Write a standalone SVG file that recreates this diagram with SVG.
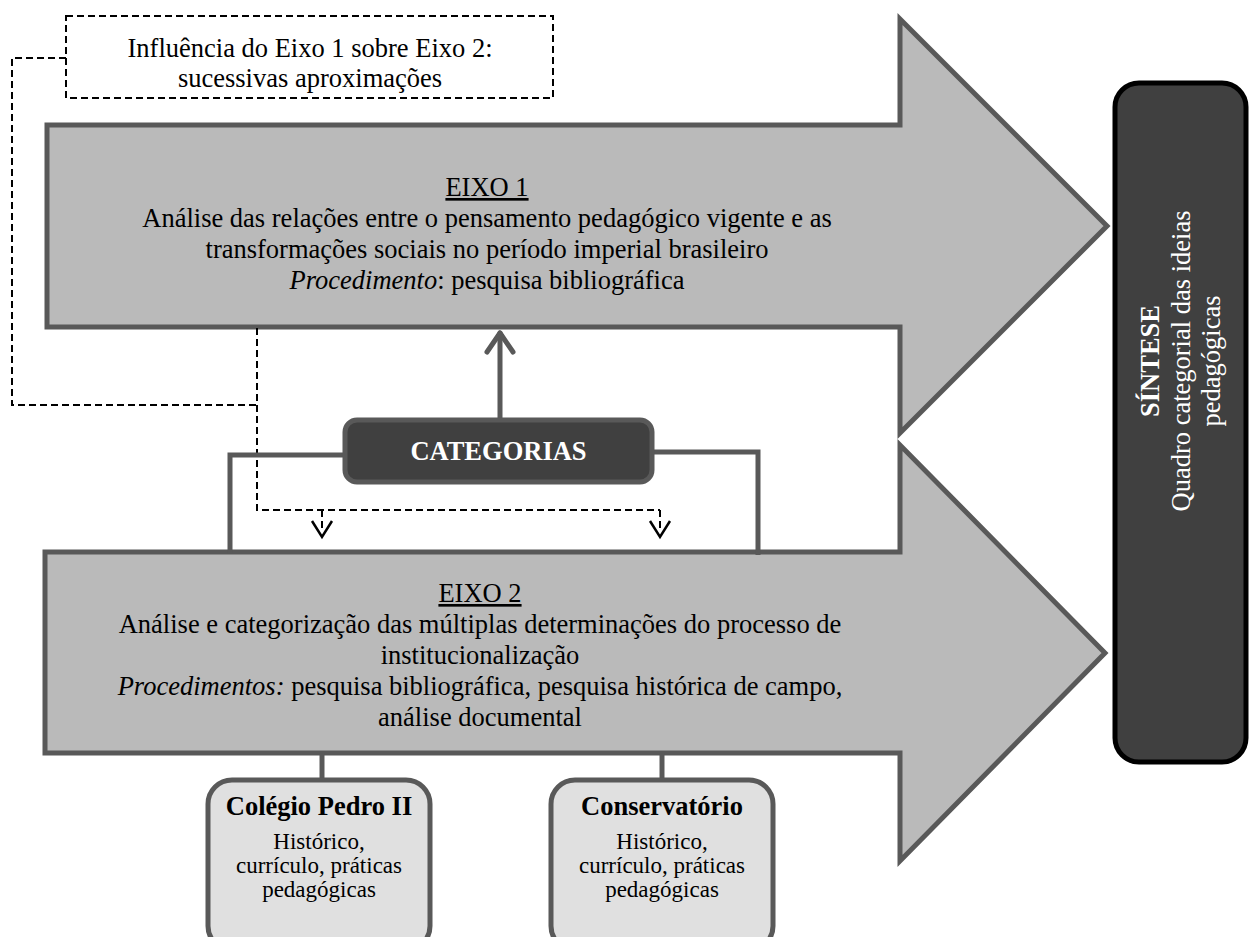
<svg xmlns="http://www.w3.org/2000/svg" width="1249" height="937" viewBox="0 0 1249 937">
<style>
text{font-family:"Liberation Serif","Times New Roman",serif;fill:#000}
.t{font-size:26.5px;text-anchor:middle}
.s{font-size:23px;text-anchor:middle}
.b{font-weight:bold}
.w{fill:#fff}
.it{font-style:italic}
.u{text-decoration:underline}
.arrow{fill:#bababa;stroke:#595959;stroke-width:5}
.conn{fill:none;stroke:#595959;stroke-width:5}
.dash{fill:none;stroke:#000;stroke-width:2;stroke-dasharray:7,4}
.head{fill:none;stroke:#000;stroke-width:2.5}
.box{fill:#e0e0e0;stroke:#595959;stroke-width:5}
</style>
<rect width="1249" height="937" fill="#fff"/>
<g id="eixo1">
<path class="arrow" d="M47,125 H900 V19 L1107,226 L900,433 V327 H47 Z"/>
<text class="t" x="487" y="196"><tspan class="u">EIXO 1</tspan></text>
<text class="t" x="487" y="227">Análise das relações entre o pensamento pedagógico vigente e as</text>
<text class="t" x="487" y="258">transformações sociais no período imperial brasileiro</text>
<text class="t" x="487" y="289"><tspan class="it">Procedimento</tspan>: pesquisa bibliográfica</text>
</g>
<g id="eixo2">
<path class="arrow" d="M45,552 H900 V445 L1105,653 L900,861 V753 H45 Z"/>
<text class="t" x="480" y="602"><tspan class="u">EIXO 2</tspan></text>
<text class="t" x="480" y="633">Análise e categorização das múltiplas determinações do processo de</text>
<text class="t" x="480" y="664">institucionalização</text>
<text class="t" x="480" y="695"><tspan class="it">Procedimentos:</tspan> pesquisa bibliográfica, pesquisa histórica de campo,</text>
<text class="t" x="480" y="726">análise documental</text>
</g>
<g id="connectors">
<path class="dash" d="M66,58 H12 V405 H257"/>
<path class="dash" d="M257,328 V510 H660"/>
<path class="dash" d="M322,510 V530"/>
<path class="dash" d="M660,510 V530"/>
<path class="head" d="M312,521 L322,537 L332,521"/>
<path class="head" d="M650,521 L660,537 L670,521"/>
<path class="conn" d="M345,455 H230 V553"/>
<path class="conn" d="M652,452 H758 V555"/>
<path class="conn" d="M500,420 V333" stroke-linecap="round"/>
<path class="conn" d="M487,352 L500,333 L513,352" stroke-linecap="round" stroke-linejoin="round"/>
<path class="conn" d="M322,753 V780"/>
<path class="conn" d="M662,753 V780"/>
</g>
<g id="influencia">
<rect x="66" y="16" width="487" height="82" fill="none" stroke="#000" stroke-width="2" stroke-dasharray="7,4"/>
<text class="t" x="310" y="57">Influência do Eixo 1 sobre Eixo 2:</text>
<text class="t" x="310" y="87">sucessivas aproximações</text>
</g>
<g id="categorias">
<rect x="345" y="420" width="307" height="62" rx="12" fill="#404040" stroke="#595959" stroke-width="5"/>
<text class="t b w" x="498.5" y="460">CATEGORIAS</text>
</g>
<g id="colegio">
<rect class="box" x="208" y="780" width="222" height="170" rx="24"/>
<text class="t b" x="319" y="815">Colégio Pedro II</text>
<text class="s" x="319" y="849">Histórico,</text>
<text class="s" x="319" y="873">currículo, práticas</text>
<text class="s" x="319" y="897">pedagógicas</text>
</g>
<g id="conservatorio">
<rect class="box" x="551" y="780" width="222" height="170" rx="24"/>
<text class="t b" x="662" y="815">Conservatório</text>
<text class="s" x="662" y="849">Histórico,</text>
<text class="s" x="662" y="873">currículo, práticas</text>
<text class="s" x="662" y="897">pedagógicas</text>
</g>
<g id="sintese">
<rect x="1115" y="83" width="131" height="679" rx="24" fill="#404040" stroke="#000" stroke-width="5"/>
<text class="t b w" transform="translate(1159,361) rotate(-90)">SÍNTESE</text>
<text class="t w" transform="translate(1190,361) rotate(-90)">Quadro categorial das ideias</text>
<text class="t w" transform="translate(1220,361) rotate(-90)">pedagógicas</text>
</g>
</svg>
